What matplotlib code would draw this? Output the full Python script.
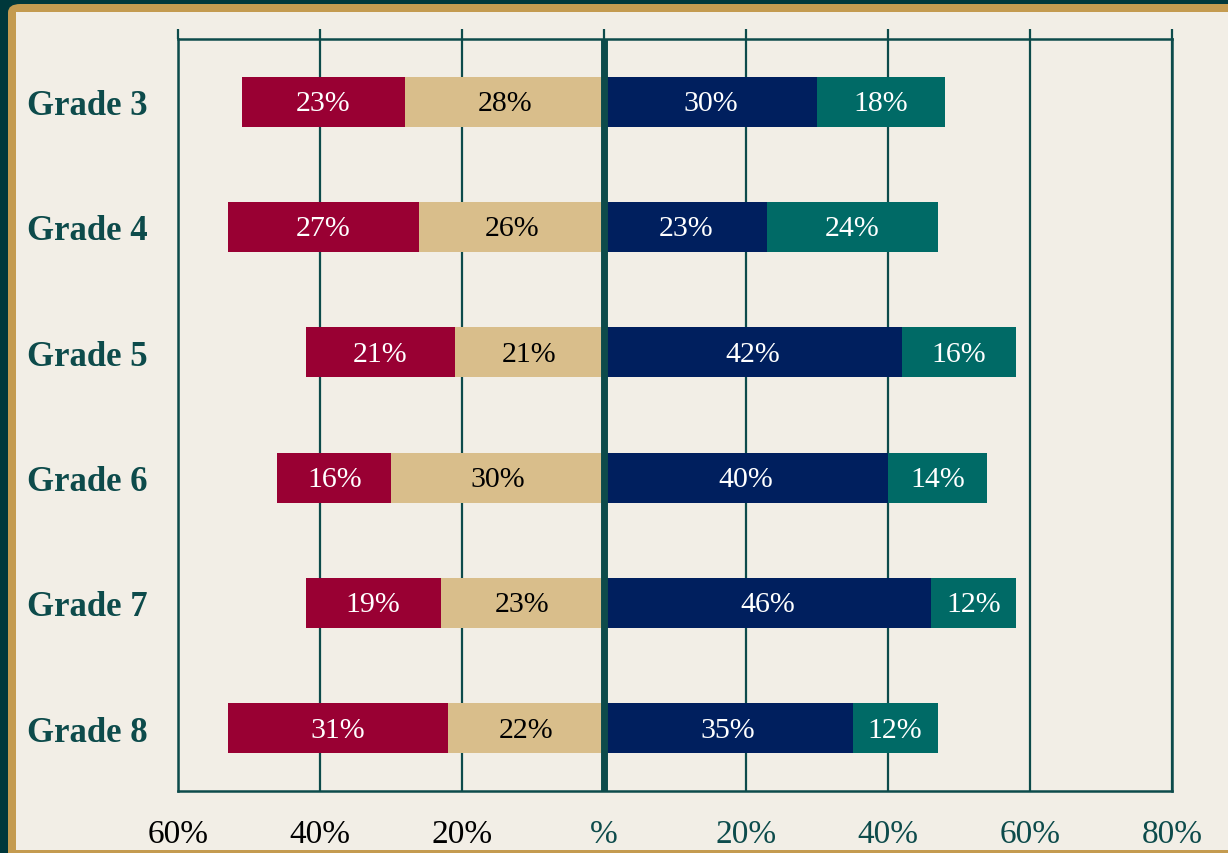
import matplotlib
matplotlib.use("Agg")
import matplotlib.pyplot as plt
from matplotlib.patches import FancyBboxPatch, Rectangle
import matplotlib.transforms as mtransforms
import numpy as np

grades = ["Grade 3", "Grade 4", "Grade 5", "Grade 6", "Grade 7", "Grade 8"]
# left side (drawn as negative): outer red, inner tan
red = [23, 27, 21, 16, 19, 31]
tan = [28, 26, 21, 30, 23, 22]
# right side: inner navy, outer teal
navy = [30, 23, 42, 40, 46, 35]
teal = [18, 24, 16, 14, 12, 12]
xticks = [-60, -40, -20, 0, 20, 40, 60, 80]
xlabels = ["60%", "40%", "20%", "%", "20%", "40%", "60%", "80%"]

c_red = "#990033"
c_tan = "#D9BE8B"
c_navy = "#001F5E"
c_teal = "#006A66"
c_line = "#0D4B4B"
c_cream = "#F2EEE6"
c_gold = "#C49B50"
c_dark = "#00383B"

W, H = 1228, 854
fig = plt.figure(figsize=(W / 100, H / 100), dpi=100, facecolor=c_dark)

# gold frame and cream panel behind the axes
fig.patches.append(FancyBboxPatch((8 / W, -0.2), 1.2, (1 - 5 / H) + 0.2,
                                  boxstyle="round,pad=0,rounding_size=0.01",
                                  transform=fig.transFigure, facecolor=c_gold,
                                  edgecolor="none", zorder=-3))
fig.patches.append(Rectangle((16 / W, 3 / H), 1.2, 1 - 16 / H,
                             transform=fig.transFigure, facecolor=c_cream,
                             edgecolor="none", zorder=-2))

ax = fig.add_axes([178 / W, 1 - 792 / H, (1172 - 178) / W, (792 - 40) / H])
ax.set_facecolor("none")

y = np.arange(len(grades))
h = 0.4
tan_a = np.array(tan)
red_a = np.array(red)
navy_a = np.array(navy)
teal_a = np.array(teal)

ax.barh(y, -tan_a, height=h, color=c_tan, zorder=3)
ax.barh(y, -red_a, left=-tan_a, height=h, color=c_red, zorder=3)
ax.barh(y, navy_a, height=h, color=c_navy, zorder=3)
ax.barh(y, teal_a, left=navy_a, height=h, color=c_teal, zorder=3)

lab = dict(ha="center", va="center", fontsize=21.5, family="Liberation Serif", zorder=4)
for i in range(len(grades)):
    yy = y[i] + 0.01
    ax.text(-tan_a[i] - red_a[i] / 2, yy, f"{red[i]}%", color="white", **lab)
    ax.text(-tan_a[i] / 2, yy, f"{tan[i]}%", color="black", **lab)
    ax.text(navy_a[i] / 2, yy, f"{navy[i]}%", color="white", **lab)
    ax.text(navy_a[i] + teal_a[i] / 2, yy, f"{teal[i]}%", color="white", **lab)

ax.set_xlim(-60, 80)
ax.set_ylim(len(grades) - 0.5, -0.5)

for xv in xticks:
    if xv == 0:
        ax.axvline(0, color=c_line, lw=5, zorder=5)
    else:
        ax.axvline(xv, color=c_line, lw=1.6, zorder=2)

for s in ax.spines.values():
    s.set_color(c_line)
    s.set_linewidth(1.8)

ax.set_xticks(xticks)
ax.set_xticklabels(xlabels, family="Liberation Serif", fontsize=24)
ax.tick_params(axis="x", which="both", top=True, bottom=False, labeltop=False,
               labelbottom=True, direction="out", length=7, width=1.6,
               color=c_line, pad=13)
for i, t in enumerate(ax.get_xticklabels()):
    t.set_color("black" if xticks[i] < 0 else c_line)

ax.set_yticks(y)
ax.set_yticklabels(grades, family="Liberation Serif", fontsize=25,
                   fontweight="bold", color=c_line)
ax.tick_params(axis="y", length=0, pad=0)
for t in ax.get_yticklabels():
    t.set_horizontalalignment("left")
    t.set_transform(mtransforms.blended_transform_factory(fig.transFigure, ax.transData)
                    + mtransforms.ScaledTranslation(27 / 100, 0, fig.dpi_scale_trans))
    t.set_x(0)

fig.savefig("out.png", dpi=100, facecolor=c_dark)
